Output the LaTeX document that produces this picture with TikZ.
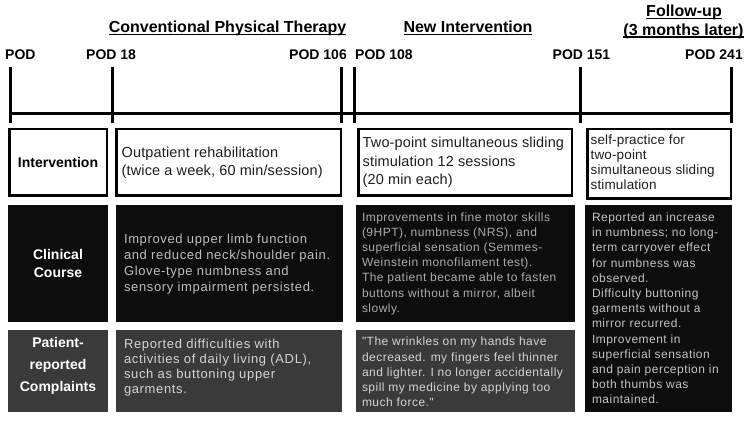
\documentclass[tikz,border=0pt]{standalone}
\usepackage{fontspec}
\setmainfont{Liberation Sans}
\newfontfamily\bodyA[LetterSpace=5]{Liberation Sans}
\newfontfamily\bodyB[LetterSpace=4]{Liberation Sans}
\newfontfamily\bodyI[LetterSpace=1]{Liberation Sans}
\newsavebox\ulbox
\newcommand\myul[1]{\sbox\ulbox{#1}\rlap{\rule[-2.6pt]{\wd\ulbox}{1.5pt}}\usebox\ulbox}
\definecolor{cblack}{HTML}{0D0D0D}
\definecolor{cgray}{HTML}{3A3A3A}
\definecolor{tA}{HTML}{BDBDBD}
\definecolor{tB}{HTML}{ABABAB}
\definecolor{tC}{HTML}{C2C2C2}
\definecolor{tP}{HTML}{D4D4D4}
\begin{document}
\begin{tikzpicture}[x=1pt,y=-1pt,
  ibox/.style={draw=black, line width=2.5pt, fill=white, inner sep=0pt},
  dbox/.style={fill=cblack, draw=none, inner sep=0pt},
  gbox/.style={fill=cgray, draw=none, inner sep=0pt},
  tickline/.style={line width=3pt},
  tline/.style={line width=2.5pt},
  podlabel/.style={font=\fontsize{14}{16}\selectfont\bfseries, inner sep=0pt},
  head/.style={font=\fontsize{16}{18}\selectfont\bfseries, inner sep=0pt},
  lab/.style={font=\fontsize{14}{18}\selectfont\bfseries, align=center, inner sep=0pt},
  intxt/.style={align=left, inner sep=0pt, anchor=west, text=black!88, font=\bodyI\fontsize{14.5}{18.5}\selectfont},
  intxtS/.style={align=left, inner sep=0pt, anchor=west, text=black!88, font=\bodyI\fontsize{13.5}{15}\selectfont},
  txtA/.style={align=left, inner sep=0pt, anchor=west, font=\bodyA\fontsize{13}{16}\selectfont},
  txtB/.style={align=left, inner sep=0pt, anchor=west, font=\bodyB\fontsize{12}{15.2}\selectfont}
]
\useasboundingbox (0,0) rectangle (750,422);

% headers
\node[head, anchor=base] (h1) at (227.5,32.7) {\myul{Conventional Physical Therapy}};
\node[head, anchor=base] (h2) at (468,32.7) {\myul{New Intervention}};
\node[head, anchor=base] (h3a) at (684,16.8) {\myul{Follow-up}};
\node[head, anchor=base] (h3b) at (683.5,35.2) {\myul{(3 months later)}};

% POD labels
\node[podlabel, anchor=base west] (p0) at (5,60) {POD};
\node[podlabel, anchor=base west] (p1) at (86,60) {POD 18};
\node[podlabel, anchor=base east] (p2) at (347,60) {POD 106};
\node[podlabel, anchor=base west] (p3) at (355,60) {POD 108};
\node[podlabel, anchor=base] (p4) at (581.5,60) {POD 151};
\node[podlabel, anchor=base east] (p5) at (743,60) {POD 241};

% timeline
\coordinate (ls) at (10,113.5);
\coordinate (le) at (731,113.5);
\draw[tline] (ls) -- (le);
\foreach \n/\x in {0/10,1/112,2/341.5,3/354,4/580,5/731}{
  \coordinate (tt\n) at (\x,67);
  \coordinate (tb\n) at (\x,123);
  \draw[tickline] (tt\n) -- (tb\n);
}

% Intervention row
\node[ibox, minimum width=97.5pt, minimum height=66.5pt] (i1) at (58,162.5) {};
\node[ibox, minimum width=224.5pt, minimum height=66.5pt] (i2) at (228.5,162.5) {};
\node[ibox, minimum width=213.5pt, minimum height=66.5pt] (i3) at (465,162.5) {};
\node[ibox, minimum width=143.5pt, minimum height=69.5pt] (i4) at (659,164) {};
\node[lab] (i1t) at (i1.center) {Intervention};
\node[intxt] (i2t) at ([xshift=6.5pt]i2.west) {Outpatient rehabilitation\\(twice a week, 60 min/session)};
\node[intxt] (i3t) at ([xshift=5.5pt]i3.west) {Two-point simultaneous sliding\\stimulation 12 sessions\\(20 min each)};
\node[intxtS] (i4t) at ([xshift=4.5pt,yshift=2pt]i4.west) {self-practice for\\two-point\\simultaneous sliding\\stimulation};

% Clinical course row
\node[dbox, minimum width=100pt, minimum height=117pt] (c1) at (58,263.5) {};
\node[dbox, minimum width=227pt, minimum height=117pt] (c2) at (229.5,263.5) {};
\node[dbox, minimum width=219pt, minimum height=117pt] (c3) at (465.5,263.5) {};
\node[dbox, minimum width=147pt, minimum height=207pt] (c4) at (658.5,308.5) {};
\node[lab, text=white] (c1t) at (c1.center) {Clinical\\Course};
\node[txtA, text=tA] (c2t) at ([xshift=8pt,yshift=-1pt]c2.west) {Improved upper limb function\\and reduced neck/shoulder pain.\\Glove-type numbness and\\sensory impairment persisted.};
\node[txtB, text=tB] (c3t) at ([xshift=6pt]c3.west) {Improvements in fine motor skills\\(9HPT), numbness (NRS), and\\superficial sensation (Semmes-\\Weinstein monofilament test).\\The patient became able to fasten\\buttons without a mirror, albeit\\slowly.};
\node[txtB, text=tC] (c4t) at ([xshift=7pt]c4.west) {Reported an increase\\in numbness; no long-\\term carryover effect\\for numbness was\\observed.\\Difficulty buttoning\\garments without a\\mirror recurred.\\Improvement in\\superficial sensation\\and pain perception in\\both thumbs was\\maintained.};

% Patient-reported row
\node[gbox, minimum width=100pt, minimum height=82pt] (r1) at (58,371) {};
\node[gbox, minimum width=226pt, minimum height=82pt] (r2) at (229,371) {};
\node[gbox, minimum width=219pt, minimum height=82pt] (r3) at (465.5,371) {};
\node[lab, text=white, font=\fontsize{14}{22}\selectfont\bfseries] (r1t) at ([yshift=5pt]r1.center) {Patient-\\reported\\Complaints};
\node[txtA, text=tP, font=\bodyA\fontsize{13}{15}\selectfont] (r2t) at ([xshift=8pt,yshift=3.5pt]r2.west) {Reported difficulties with\\activities of daily living (ADL),\\such as buttoning upper\\garments.};
\node[txtB, text=tP] (r3t) at ([xshift=6pt,yshift=-1pt]r3.west) {"The wrinkles on my hands have\\decreased. my fingers feel thinner\\and lighter. I no longer accidentally\\spill my medicine by applying too\\much force."};
\end{tikzpicture}
\end{document}
